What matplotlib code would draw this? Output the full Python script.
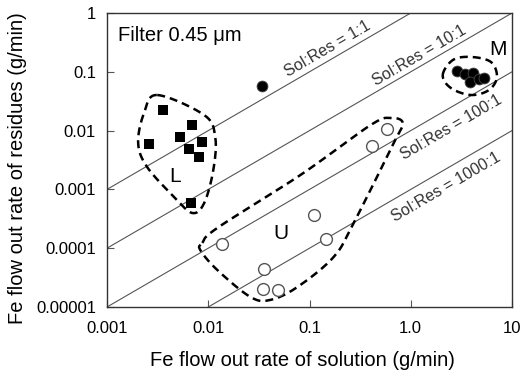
import numpy as np
import matplotlib
matplotlib.use("Agg")
import matplotlib.pyplot as plt

plt.rcParams['font.family'] = ['Liberation Sans', 'DejaVu Sans']

# group L: filled squares (solution, residues) in g/min
l_sol = [0.00358, 0.00695, 0.00528, 0.00261, 0.00873, 0.00649, 0.00815, 0.00679]
l_res = [0.0224, 0.01245, 0.00778, 0.00592, 0.0064, 0.00486, 0.00356, 0.000587]

# group M: filled circles, plus one isolated filled circle
m_sol = [2.85, 3.43, 4.11, 3.84, 4.71, 5.28, 0.0343]
m_res = [0.103, 0.0918, 0.0954, 0.0671, 0.0755, 0.0785, 0.057]

# group U: open circles
u_sol = [0.578, 0.411, 0.112, 0.0138, 0.147, 0.0358, 0.0351, 0.0493]
u_res = [0.01064, 0.00547, 0.000367, 0.000118, 0.000143, 0.0000443, 0.0000202, 0.0000195]

# Sol:Res reference ratios
ratios = [1, 10, 100, 1000]
ratio_labels = ["Sol:Res = 1:1", "Sol:Res = 10:1", "Sol:Res = 100:1", "Sol:Res = 1000:1"]
label_pos = [(0.15, 0.25), (1.22, 0.19), (2.5, 0.0115), (2.25, 0.0011)]

xticks = [0.001, 0.01, 0.1, 1, 10]
xticklabels = ["0.001", "0.01", "0.1", "1.0", "10"]
yticks = [0.00001, 0.0001, 0.001, 0.01, 0.1, 1]
yticklabels = ["0.00001", "0.0001", "0.001", "0.01", "0.1", "1"]

# dashed group outlines (closed, smoothed in log space)
outline_l = ([0.00313, 0.00912, 0.01172, 0.01122, 0.00912, 0.00695, 0.0046, 0.00249, 0.00203, 0.00232],
             [0.0403, 0.0184, 0.00778, 0.00214, 0.000587, 0.000397, 0.000743, 0.0024, 0.00615, 0.0199])
outline_m = ([2.07, 2.61, 3.93, 6.19, 7.10, 5.92, 3.93, 2.49],
             [0.0882, 0.159, 0.179, 0.147, 0.0816, 0.049, 0.0403, 0.053])
outline_u = ([0.00873, 0.01228, 0.0815, 0.402, 0.634, 0.834, 0.679, 0.273, 0.173, 0.076, 0.0411, 0.0261, 0.01228, 0.00834],
             [0.000123, 0.000221, 0.00176, 0.01245, 0.0164, 0.01346, 0.00615, 0.000268, 0.0000708,
              0.0000219, 0.0000132, 0.0000148, 0.0000426, 0.0000931])


def smooth_closed(xs, ys, n=24):
    p = np.column_stack([np.log10(xs), np.log10(ys)])
    m = len(p)
    t = np.linspace(0, 1, n, endpoint=False)[:, None]
    segs = []
    for i in range(m):
        p0, p1, p2, p3 = p[i - 1], p[i], p[(i + 1) % m], p[(i + 2) % m]
        segs.append(0.5 * (2 * p1 + (-p0 + p2) * t + (2 * p0 - 5 * p1 + 4 * p2 - p3) * t ** 2
                           + (-p0 + 3 * p1 - 3 * p2 + p3) * t ** 3))
    pts = np.vstack(segs + [p[:1]])
    return 10 ** pts[:, 0], 10 ** pts[:, 1]


fig = plt.figure(figsize=(5.2, 3.76), dpi=100)
ax = fig.add_axes([0.2058, 0.1835, 0.7788, 0.7819])
ax.set_xscale('log')
ax.set_yscale('log')
ax.set_xlim(0.001, 10)
ax.set_ylim(0.00001, 1)

# angle of a 1:1 line on screen
fig.canvas.draw()
p_a = ax.transData.transform((0.01, 0.01))
p_b = ax.transData.transform((1, 1))
angle = np.degrees(np.arctan2(p_b[1] - p_a[1], p_b[0] - p_a[0]))

xs = np.array([0.001, 10])
for r, lab, (tx, ty) in zip(ratios, ratio_labels, label_pos):
    ax.plot(xs, xs / r, color='#555555', lw=0.8, zorder=1)
    ax.text(tx, ty, lab, rotation=angle, rotation_mode='anchor', ha='center', va='center',
            fontsize=11.5, color='#333333')

for ox, oy in (outline_l, outline_m, outline_u):
    sx, sy = smooth_closed(ox, oy)
    ax.plot(sx, sy, color='black', lw=1.8, ls=(0, (3.2, 2)), zorder=2)

ax.plot(u_sol, u_res, 'o', ms=8.5, mfc='white', mec='#555555', mew=1.0, zorder=3)
ax.plot(m_sol, m_res, 'o', ms=7.8, mfc='black', mec='#444444', mew=0.6, zorder=3)
ax.plot(l_sol, l_res, 's', ms=7, mfc='black', mec='black', mew=0, zorder=3)

ax.text(0.0047, 0.00163, "L", fontsize=15, ha='center', va='center')
ax.text(7.3, 0.235, "M", fontsize=15, ha='center', va='center')
ax.text(0.052, 0.00018, "U", fontsize=15, ha='center', va='center')
ax.text(0.027, 0.905, "Filter 0.45 \u03bcm", transform=ax.transAxes, fontsize=14.5,
        va='baseline', ha='left')

ax.set_xticks(xticks)
ax.set_xticklabels(xticklabels)
ax.set_yticks(yticks)
ax.set_yticklabels(yticklabels)
ax.minorticks_off()
ax.tick_params(direction='in', length=5, width=0.8, labelsize=12, color='#555555', pad=8)
ax.tick_params(axis='x', pad=10)
for s in ax.spines.values():
    s.set_color('#333333')
    s.set_linewidth(1.0)

ax.set_xlabel("Fe flow out rate of solution (g/min)", fontsize=14.5)
ax.set_ylabel("Fe flow out rate of residues (g/min)", fontsize=14.5)
ax.xaxis.set_label_coords(0.483, -0.150)
ax.yaxis.set_label_coords(-0.198, 0.473)

fig.savefig("out.png", dpi=100)
